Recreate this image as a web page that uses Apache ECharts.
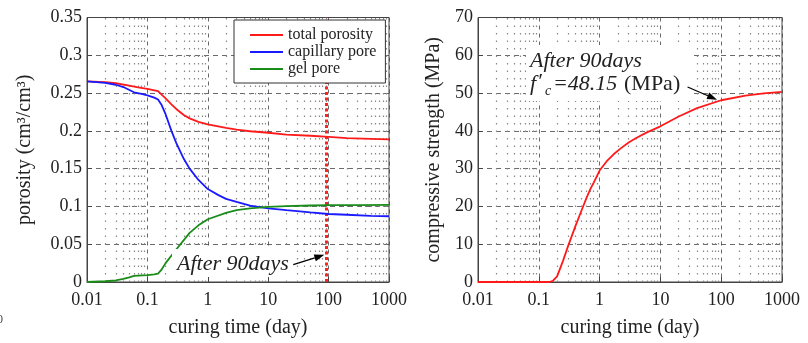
<!DOCTYPE html>
<html><head><meta charset="utf-8">
<script src="https://cdn.jsdelivr.net/npm/echarts@6/dist/echarts.min.js"></script>
<style>html,body{margin:0;padding:0;background:#fff}#c{width:808px;height:343px}</style>
</head><body><div id="c"></div>
<script>
// ---- data ----
const xTickLabels = ['0.01', '0.1', '1', '10', '100', '1000'];
const porosityTickLabels = ['0', '0.05', '0.1', '0.15', '0.2', '0.25', '0.3', '0.35'];
const strengthTickLabels = ['0', '10', '20', '30', '40', '50', '60', '70'];

const totalDays = [0.01, 0.02, 0.03, 0.05, 0.07, 0.1, 0.15, 0.2, 0.25, 0.3, 0.4, 0.5, 0.7, 1, 2, 3, 5, 10, 20, 50, 100, 200, 500, 1000];
const totalPorosity = [0.2655, 0.2645, 0.263, 0.260, 0.2575, 0.2555, 0.2525, 0.243, 0.235, 0.229, 0.221, 0.2165, 0.212, 0.2085, 0.204, 0.2015, 0.1995, 0.1975, 0.195, 0.1935, 0.192, 0.1905, 0.1895, 0.1887];

const capDays = [0.01, 0.02, 0.03, 0.04, 0.06, 0.08, 0.1, 0.13, 0.15, 0.17, 0.2, 0.25, 0.3, 0.4, 0.5, 0.7, 1, 1.5, 2, 3, 5, 10, 20, 50, 100, 200, 500, 1000];
const capillaryPore = [0.2655, 0.2635, 0.261, 0.258, 0.251, 0.249, 0.247, 0.244, 0.2415, 0.235, 0.222, 0.200, 0.184, 0.163, 0.150, 0.135, 0.123, 0.115, 0.110, 0.106, 0.101, 0.0975, 0.095, 0.092, 0.090, 0.089, 0.0875, 0.087];

const gelDays = [0.01, 0.02, 0.03, 0.04, 0.05, 0.06, 0.1, 0.13, 0.15, 0.17, 0.2, 0.3, 0.5, 0.7, 1, 2, 3, 5, 10, 20, 50, 100, 300, 1000];
const gelPore = [0, 0.001, 0.002, 0.004, 0.006, 0.008, 0.009, 0.010, 0.011, 0.016, 0.025, 0.043, 0.065, 0.075, 0.083, 0.0915, 0.095, 0.0975, 0.0995, 0.1005, 0.1012, 0.1016, 0.1018, 0.102];

const strengthDays = [0.01, 0.05, 0.1, 0.15, 0.17, 0.2, 0.25, 0.3, 0.4, 0.5, 0.6, 0.7, 0.8, 1, 1.3, 1.7, 2.2, 3, 4, 6, 10, 20, 40, 100, 250, 500, 1000];
const compressiveStrength = [0, 0, 0, 0, 0.3, 1.5, 5.6, 9.3, 14.8, 18.8, 22, 24.5, 26.3, 29.5, 31.9, 33.8, 35.3, 36.9, 38.1, 39.6, 41.2, 43.8, 46.0, 48.1, 49.3, 49.9, 50.3];

const markDay = 90;
const markStrength = 48.15;
const decades = [0.01, 0.1, 1, 10, 100];

// ---- chart ----
const FONT = 'Liberation Serif';
const TXT = '#222';
const pair = (xs, ys) => xs.map((x, i) => [x, ys[i]]);
const minorX = [];
for (const d of decades) for (let k = 2; k <= 9; k++) minorX.push(+(d * k).toPrecision(2));
const minorLines = minorX.map(v => ({ xAxis: v }));

const chart = echarts.init(document.getElementById('c'));

function xAxisCfg(gi) {
  return {
    type: 'log', logBase: 10, gridIndex: gi, min: 0.01, max: 1000, splitNumber: 5,
    name: 'curing time (day)', nameLocation: 'middle', nameGap: 36,
    nameTextStyle: { fontFamily: FONT, fontSize: 20, color: TXT },
    axisLine: { show: true, lineStyle: { color: '#444', width: 1 } },
    axisTick: { show: true, inside: true, length: 5, lineStyle: { color: '#444' } },
    minorTick: { show: false },
    axisLabel: { fontFamily: FONT, fontSize: 18, color: TXT, margin: 9,
      formatter: v => xTickLabels[Math.round(Math.log10(v)) + 2] },
    splitLine: { show: true, lineStyle: { color: '#444', type: [4, 4], width: 0.8 } }
  };
}
function yAxisCfg(gi, max, interval, labels, name, gap) {
  return {
    type: 'value', gridIndex: gi, min: 0, max: max, interval: interval,
    name: name, nameLocation: 'middle', nameGap: gap,
    nameTextStyle: { fontFamily: FONT, fontSize: 20, color: TXT },
    axisLine: { show: true, lineStyle: { color: '#444', width: 1 } },
    axisTick: { show: true, inside: true, length: 5, lineStyle: { color: '#444' } },
    axisLabel: { fontFamily: FONT, fontSize: 18, color: TXT, margin: 5,
      formatter: v => labels[Math.round(v / interval)] },
    splitLine: { show: true, lineStyle: { color: '#444', type: [5, 4], width: 0.8 } }
  };
}

const minorStyle = { color: '#888', type: [1.5, 6], width: 1.2 };

chart.setOption({
  animation: false,
  backgroundColor: '#fff',
  grid: [
    { left: 87, top: 17.5, width: 302, height: 264.5, show: true, borderColor: '#444', borderWidth: 1 },
    { left: 478, top: 17.5, width: 304, height: 264.5, show: true, borderColor: '#444', borderWidth: 1 }
  ],
  xAxis: [xAxisCfg(0), xAxisCfg(1)],
  yAxis: [
    yAxisCfg(0, 0.35, 0.05, porosityTickLabels, 'porosity (cm³/cm³)', 52),
    yAxisCfg(1, 70, 10, strengthTickLabels, 'compressive strength (MPa)', 34)
  ],
  legend: {
    z: 50,
    left: 234, top: 20, orient: 'vertical', itemWidth: 33, itemHeight: 2, itemGap: 1,
    icon: 'rect', padding: [7, 9, 6, 16], borderColor: '#333', borderWidth: 1,
    backgroundColor: '#fff',
    textStyle: { fontFamily: FONT, fontSize: 16, color: TXT, padding: [0, 0, 0, 0] },
    data: ['total porosity', 'capillary pore', 'gel pore']
  },
  series: [
    { type: 'line', xAxisIndex: 0, yAxisIndex: 0, data: [], z: 1, silent: true,
      markLine: { z: 1, silent: true, symbol: 'none', label: { show: false }, lineStyle: minorStyle, data: minorLines } },
    { type: 'line', xAxisIndex: 1, yAxisIndex: 1, data: [], z: 1, silent: true,
      markLine: { z: 1, silent: true, symbol: 'none', label: { show: false }, lineStyle: minorStyle, data: minorLines } },
    { name: 'total porosity', type: 'line', xAxisIndex: 0, yAxisIndex: 0, showSymbol: false, symbol: 'none', z: 5,
      data: pair(totalDays, totalPorosity), lineStyle: { color: '#ff1a1a', width: 1.8 }, itemStyle: { color: '#ff1a1a' },
      markLine: { z: 3, silent: true, symbol: 'none', label: { show: false },
        data: [{ xAxis: markDay, lineStyle: { color: '#ff2020', type: [3, 2.5], width: 3 } }] } },
    { name: 'capillary pore', type: 'line', xAxisIndex: 0, yAxisIndex: 0, showSymbol: false, symbol: 'none', z: 5,
      data: pair(capDays, capillaryPore), lineStyle: { color: '#1a1aff', width: 1.8 }, itemStyle: { color: '#1a1aff' } },
    { name: 'gel pore', type: 'line', xAxisIndex: 0, yAxisIndex: 0, showSymbol: false, symbol: 'none', z: 5,
      data: pair(gelDays, gelPore), lineStyle: { color: '#1a8c1a', width: 1.8 }, itemStyle: { color: '#1a8c1a' } },
    { name: 'strength', type: 'line', xAxisIndex: 1, yAxisIndex: 1, showSymbol: false, symbol: 'none', z: 5,
      smooth: false,
      data: pair(strengthDays, compressiveStrength), lineStyle: { color: '#ff1a1a', width: 1.8 } }
  ]
});

// annotation boxes and arrows (positions from the axes)
function arrow(gi, from, to) {
  const p1 = chart.convertToPixel({ gridIndex: gi }, from);
  const p2 = chart.convertToPixel({ gridIndex: gi }, to);
  const ang = Math.atan2(p2[1] - p1[1], p2[0] - p1[0]);
  const L = 10, W = 3.5;
  const bx = p2[0] - L * Math.cos(ang), by = p2[1] - L * Math.sin(ang);
  const nx = -Math.sin(ang) * W, ny = Math.cos(ang) * W;
  return [
    { type: 'line', z: 120, shape: { x1: p1[0], y1: p1[1], x2: bx, y2: by }, style: { stroke: '#000', lineWidth: 1.3 } },
    { type: 'polygon', z: 120, shape: { points: [[p2[0], p2[1]], [bx + nx, by + ny], [bx - nx, by - ny]] }, style: { fill: '#000' } }
  ];
}

const IT = 'italic 22px "Liberation Serif"';
const graphics = [];
graphics.push({ type: 'rect', z: 100, shape: { x: 172, y: 249, width: 120, height: 28 }, style: { fill: '#fff' } });
graphics.push({ type: 'text', z: 110, style: { text: 'After 90days', x: 177, y: 264, verticalAlign: 'middle', font: IT, fill: TXT } });
graphics.push(...arrow(0, [26, 0.023], [85, 0.036]));

graphics.push({ type: 'rect', z: 100, shape: { x: 526, y: 45, width: 168, height: 56 }, style: { fill: '#fff' } });
graphics.push({ type: 'text', z: 110, style: { text: 'After 90days', x: 530, y: 61, verticalAlign: 'middle', font: IT, fill: TXT } });
graphics.push({ type: 'text', z: 110, style: { text: 'f', x: 530, y: 84, verticalAlign: 'middle', font: IT, fill: TXT } });
graphics.push({ type: 'text', z: 110, style: { text: '′', x: 537, y: 82, verticalAlign: 'middle', font: IT, fill: TXT } });
graphics.push({ type: 'text', z: 110, style: { text: 'c', x: 545, y: 91, verticalAlign: 'middle',
  font: 'italic 14px "Liberation Serif"', fill: TXT } });
graphics.push({ type: 'text', z: 110, style: { text: '=' + markStrength.toFixed(2), x: 553, y: 84, verticalAlign: 'middle', font: IT, fill: TXT } });
graphics.push({ type: 'text', z: 110, style: { text: '(MPa)', x: 624, y: 84, verticalAlign: 'middle',
  font: '22px "Liberation Serif"', fill: TXT } });
graphics.push(...arrow(1, [28, 51.6], [markDay * 0.95, markStrength + 0.1]));

graphics.push({ type: 'text', z: 110, style: { text: '0', x: -3, y: 320, verticalAlign: 'middle',
  font: '12px "Liberation Serif"', fill: '#444' } });

chart.setOption({ graphic: graphics });
</script>
</body></html>
